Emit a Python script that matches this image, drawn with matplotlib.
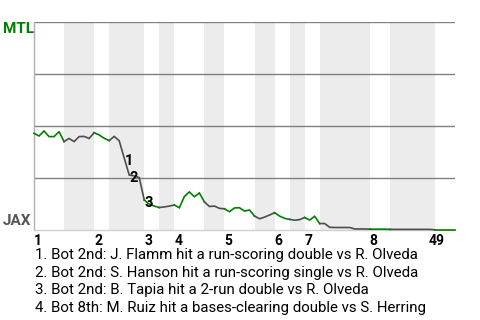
import matplotlib
matplotlib.use('Agg')
import matplotlib.pyplot as plt
import matplotlib.transforms as mtransforms

plt.rcParams['font.family'] = ['Roboto', 'DejaVu Sans']

# win probability for MTL (%) after each play
winProb = [46.5, 45.2, 47.6, 44.9, 44.9, 47.3, 42.5, 44.0, 42.5, 44.9,
           45.0, 44.0, 46.8, 45.7, 44.1, 43.0, 45.0, 42.9, 34.6, 26.4,
           26.0, 25.2, 14.4, 12.4, 11.5, 10.8, 11.1, 11.5, 12.0, 10.7,
           16.1, 18.3, 16.0, 17.8, 13.5, 11.3, 11.5, 10.4, 10.2, 8.8,
           10.6, 10.7, 9.1, 9.6, 6.7, 5.4, 6.2, 7.2, 8.3, 6.7,
           5.6, 5.1, 4.7, 5.0, 6.0, 4.8, 6.6, 3.1, 3.1, 1.3,
           1.2, 1.2, 1.2, 1.2, 0.5, 0.5, 0.5, 0.4, 0.4, 0.4,
           0.4, 0.3, 0.3, 0.3, 0.3, 0.3, 0.3, 0.3, 0.3, 0.3,
           0.1, 0.1, 0.1, 0.1, 0.1]
# play index where each half inning starts (top 1st, bot 1st, ...)
halfStarts = [0, 6, 12, 15, 22, 25, 28, 34, 38, 44, 48, 51, 54, 57, 67, 71, 80]
innings = ['1', '2', '3', '4', '5', '6', '7', '8', '9']
eventIdx = [18, 19, 22, 79]
eventText = ['1. Bot 2nd: J. Flamm hit a run-scoring double vs R. Olveda',
             '2. Bot 2nd: S. Hanson hit a run-scoring single vs R. Olveda',
             '3. Bot 2nd: B. Tapia hit a 2-run double vs R. Olveda',
             '4. Bot 8th: M. Ruiz hit a bases-clearing double vs S. Herring']
homeTeam = 'JAX'
awayTeam = 'MTL'

W, H = 480, 320
fig = plt.figure(figsize=(W / 100, H / 100), dpi=100)
ax = fig.add_axes([34 / W, 1 - 230 / H, (455 - 34) / W, (230 - 22) / H])

nPlays = len(winProb) - 1
ax.set_xlim(0, nPlays)
ax.set_ylim(0, 100)

halfEnds = halfStarts[1:] + [nPlays]
for k, (s, e) in enumerate(zip(halfStarts, halfEnds)):
    # shade bottom halves
    if k % 2 == 1:
        ax.axvspan(s, e, color='#ececec', lw=0, zorder=0)
    clr = '#008000' if k % 2 == 0 else '#4d4d4d'
    ax.plot(range(s, e + 1), winProb[s:e + 1], color=clr, lw=1.2,
            solid_joinstyle='miter', zorder=3, clip_on=False)

for yv in [25, 50, 75, 100]:
    ax.axhline(yv, color='#808080', lw=1.0, zorder=1)

for sp in ['top', 'right']:
    ax.spines[sp].set_visible(False)
ax.spines['left'].set_color('#b0b0b0')
ax.spines['bottom'].set_color('#d0d0d0')
ax.spines['left'].set_linewidth(1.0)
ax.spines['bottom'].set_linewidth(1.0)
ax.set_xticks([])
ax.set_yticks([])

# inning labels under the axis
lblTrans = mtransforms.blended_transform_factory(ax.transData, ax.transAxes)
topStarts = halfStarts[0::2]
for inn, s in zip(innings, topStarts):
    ax.text(s, -0.018, inn, transform=lblTrans, ha='left', va='top',
            fontsize=10, fontweight='bold', color='black')

# numbered event markers on the line (low ones drop to the inning row)
for n, i in enumerate(eventIdx):
    if winProb[i] < 5:
        ax.text(i - 0.2, -0.018, str(n + 1), transform=lblTrans, ha='left',
                va='top', fontsize=10, fontweight='bold', color='black', zorder=5)
    else:
        ax.annotate(str(n + 1), xy=(i, winProb[i]), xytext=(0.5, -2),
                    textcoords='offset points', ha='left', va='center',
                    fontsize=10.5, fontweight='bold', color='black', zorder=5)

fig.text(3 / W, 1 - 22 / H, awayTeam, ha='left', va='top', fontsize=11,
         fontweight='bold', color='#008000')
fig.text(3 / W, 1 - 225 / H, homeTeam, ha='left', va='baseline', fontsize=11,
         fontweight='bold', color='#555555')

for k, txt in enumerate(eventText):
    fig.text(35 / W, 1 - (255 + 17.6 * k) / H, txt, ha='left', va='center',
             fontsize=10.8, color='black')

fig.savefig('out.png', dpi=100)
plt.close()
